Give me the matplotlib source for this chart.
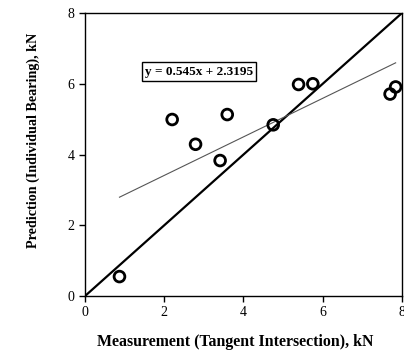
import matplotlib
matplotlib.use("Agg")
import matplotlib.pyplot as plt
import numpy as np

# Data
measured = [0.87, 2.20, 2.79, 3.41, 3.59, 4.75, 5.39, 5.75, 7.70, 7.84]
predicted = [0.55, 4.99, 4.29, 3.83, 5.13, 4.84, 5.98, 6.00, 5.71, 5.91]
slope = 0.545
intercept = 2.3195
ticks = [0, 2, 4, 6, 8]

plt.rcParams["font.family"] = ["Liberation Serif", "DejaVu Serif"]

fig = plt.figure(figsize=(4.04, 3.52), dpi=100)
ax = fig.add_axes([0.2104, 0.159, 0.7846, 0.804])

# 1:1 line
ax.plot([0, 8], [0, 8], color="black", linewidth=1.6, zorder=2)

# linear trend over the data range
xs = np.array([min(measured), max(measured)])
ax.plot(xs, slope * xs + intercept, color="#555555", linewidth=0.8, zorder=2)

ax.scatter(measured, predicted, s=60, facecolors="none", edgecolors="black",
           linewidths=2, zorder=3)

ax.text(2.88, 6.34, f"y = {slope}x + {intercept}", ha="center", va="center",
        fontsize=9.5, fontweight="bold",
        bbox=dict(boxstyle="square,pad=0.25", facecolor="white",
                  edgecolor="black", linewidth=1))

ax.set_xlim(0, 8)
ax.set_ylim(0, 8)
ax.set_xticks(ticks)
ax.set_yticks(ticks)
ax.tick_params(direction="out", length=4, width=1, labelsize=10)
for s in ax.spines.values():
    s.set_linewidth(1)

ax.set_xlabel("Measurement (Tangent Intersection), kN", fontsize=11.4,
              fontweight="bold", va="center")
ax.set_ylabel("Prediction (Individual Bearing), kN", fontsize=10.2,
              fontweight="bold", va="center")
ax.xaxis.set_label_coords(0.473, -0.161)
ax.yaxis.set_label_coords(-0.164, 0.551)

fig.savefig("out.png", dpi=100)
